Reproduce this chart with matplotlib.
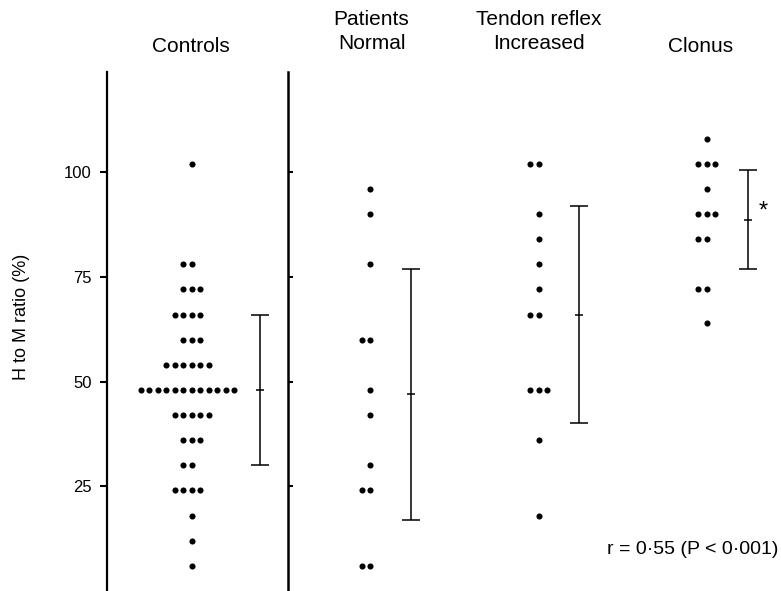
import matplotlib
matplotlib.use("Agg")
import matplotlib.pyplot as plt
from collections import Counter

plt.rcParams['font.family'] = ['Liberation Sans', 'DejaVu Sans']

# Dados (H/M em %)
grupos = ["Controls", "Patients\nNormal", "Tendon reflex\nIncreased", "Clonus"]
controles = [102, 78, 78, 72, 72, 72, 66, 66, 66, 66, 60, 60, 60,
             54, 54, 54, 54, 54, 54, 48, 48, 48, 48, 48, 48, 48, 48, 48, 48, 48, 48,
             42, 42, 42, 42, 42, 36, 36, 36, 30, 30, 24, 24, 24, 24, 18, 12, 6]
normal = [96, 90, 78, 60, 60, 48, 42, 30, 24, 24, 6, 6]
aumentado = [102, 102, 90, 84, 78, 72, 66, 66, 48, 48, 48, 36, 18]
clonus = [108, 102, 102, 102, 96, 90, 90, 90, 84, 84, 72, 72, 64]
valores = [controles, normal, aumentado, clonus]

# media e intervalo (barras)
medias = [48, 47, 66, 88.5]
limite_sup = [66, 77, 92, 100.5]
limite_inf = [30, 17, 40, 77]

ticks_y = [25, 50, 75, 100]

# Layout (coordenadas x em pixels da figura)
W, H = 781, 591
x_pontos = [191.5, 370, 538.5, 706.7]
x_barras = [260, 411, 579, 748]
x_titulos = [191, 371.5, 539, 701]
passo = 8.5

fig = plt.figure(figsize=(W / 100, H / 100), dpi=100)
esq = 106.7
topo = 71.7
ax = fig.add_axes([esq / W, 0, 1 - esq / W, (H - topo) / H])
ax.set_xlim(esq, W)
ax.set_ylim(0, 124)

# === Pontos ===
for xc, vals in zip(x_pontos, valores):
    cont = Counter(vals)
    for v, n in cont.items():
        ks = range(-(n // 2), n - n // 2)
        xs = [xc + k * passo for k in ks]
        ax.plot(xs, [v] * n, 'o', color='black', ms=4.4, mew=0)

# === Barras de erro ===
for xb, m, s, i in zip(x_barras, medias, limite_sup, limite_inf):
    ax.errorbar([xb], [m], yerr=[[m - i], [s - m]], fmt='none', ecolor='black',
                elinewidth=1.1, capsize=6.5, capthick=1.1)
    ax.plot([xb], [m], marker='_', ms=6, mew=1.1, color='black')

ax.text(763, 90.5, "*", fontsize=17, ha='center', va='center')

# === Eixos ===
ax.spines['top'].set_visible(False)
ax.spines['bottom'].set_visible(False)
ax.spines['left'].set_linewidth(1.6)
ax.spines['right'].set_position(('data', 287.5))
ax.spines['right'].set_linewidth(1.8)
ax.set_xticks([])
ax.set_yticks(ticks_y)
ax.set_yticklabels([str(t) for t in ticks_y], fontsize=12)
ax.tick_params(axis='y', direction='out', length=5, width=1.5, pad=6,
               right=True, labelright=False)
for t in ax.yaxis.get_major_ticks():
    t.tick2line.set_markersize(3.5)

# === Textos ===
for xt, g in zip(x_titulos, grupos):
    if "\n" in g:
        fig.text(xt / W, 1 - 31.5 / H, g, ha='center', va='center',
                 fontsize=15, linespacing=1.3)
    else:
        fig.text(xt / W, 1 - 47 / H, g, ha='center', va='center', fontsize=15)

fig.text(22 / W, 1 - 317 / H, "H to M ratio (%)", rotation=90,
         ha='center', va='center', fontsize=13)
fig.text(778 / W, 1 - 550 / H, "r = 0·55 (P < 0·001)", ha='right',
         va='center', fontsize=14)

fig.savefig("out.png", dpi=100)
